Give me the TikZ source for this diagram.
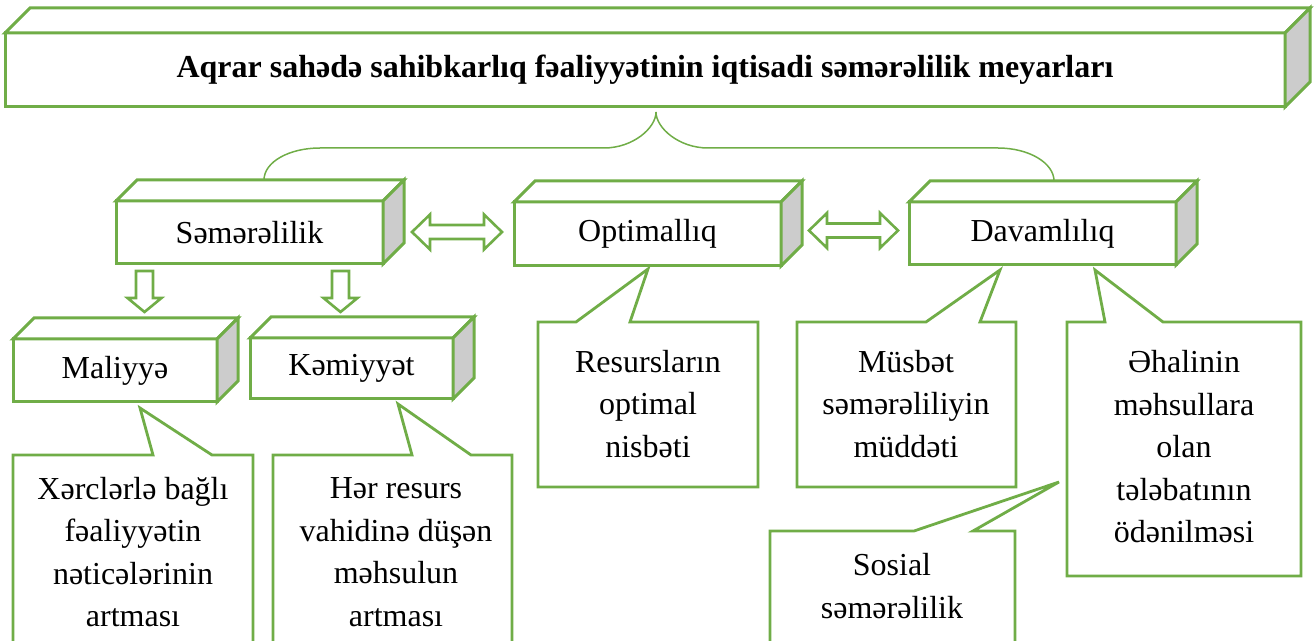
\documentclass[tikz,border=0pt]{standalone}
\usepackage{fontspec}
\setmainfont{Liberation Serif}
\usetikzlibrary{calc}
\definecolor{grn}{RGB}{112,173,71}
\definecolor{sidegray}{RGB}{204,204,204}

\begin{document}
\begin{tikzpicture}[x=0.5pt,y=-0.5pt,
        cubefront/.style={draw=grn, line width=1.5pt, fill=white, inner sep=0pt, outer sep=0pt, font=\fontsize{16}{21.25}\selectfont},
        cubeface/.style={draw=grn, line width=1.5pt, line join=miter},
        bubble/.style={draw=grn, line width=1.4pt, fill=white, line join=miter},
        bubbletext/.style={align=center, inner sep=0pt, font=\fontsize{16}{21.25}\selectfont},
        blockarrow/.style={draw=grn, line width=1.3pt, fill=white, line join=miter},
        brace/.style={draw=grn, line width=0.75pt}]
        \useasboundingbox (0,0) rectangle (1314,641);
        \node[cubefront, minimum width=640pt, minimum height=37pt, font=\bfseries\fontsize{16}{21.25}\selectfont] (title) at (645,70) {Aqrar sahədə sahibkarlıq fəaliyyətinin iqtisadi səmərəlilik meyarları};
        \draw[cubeface, fill=white] (title.north west) -- ++(25,-25) -- ($(title.north east)+(25,-25)$) -- (title.north east) -- cycle;
        \draw[cubeface, fill=sidegray] (title.north east) -- ++(25,-25) -- ($(title.south east)+(25,-25)$) -- (title.south east) -- cycle;
        \foreach \nm/\cx/\cy/\bw/\bh/\bd/\txt in {sem/249.5/232.5/267/63/21/Səmərəlilik, opt/647.5/234/267/64/21/Optimallıq, dav/1042.5/233.5/267/63/21/Davamlılıq, mal/115/370.5/204/63/21/Maliyyə, kem/351.5/368.5/203/61/21/Kəmiyyət} {
          \node[cubefront, minimum width=\bw*0.5pt, minimum height=\bh*0.5pt] (\nm) at (\cx,\cy) {\txt};
          \draw[cubeface, fill=white] (\nm.north west) -- ++(\bd,-\bd) -- ($(\nm.north east)+(\bd,-\bd)$) -- (\nm.north east) -- cycle;
          \draw[cubeface, fill=sidegray] (\nm.north east) -- ++(\bd,-\bd) -- ($(\nm.south east)+(\bd,-\bd)$) -- (\nm.south east) -- cycle;
        }
        \coordinate (bracetip) at (656,112);
        \coordinate (braceleft) at (264,180);
        \coordinate (braceright) at (1054,181);
        \draw[brace] (braceleft) .. controls (264,162) and (289,148) .. (320,148) -- (604,148)
          .. controls (633,148) and (656,128) .. (bracetip)
          .. controls (656,128) and (679,148) .. (708,148) -- (998,148)
          .. controls (1029,148) and (1054,163) .. (braceright);
        \foreach \ax/\ay/\al in {457/232/90, 853.5/230.5/89} {
          \draw[blockarrow] (\ax-\al/2,\ay) -- ++(18,-17.5) -- ++(0,10.5) -- (\ax+\al/2-18,\ay-7) -- ++(0,-10.5) -- (\ax+\al/2,\ay)
            -- ++(-18,17.5) -- ++(0,-10.5) -- (\ax-\al/2+18,\ay+7) -- ++(0,10.5) -- cycle;
        }
        \foreach \ax in {144.5, 340.5} {
          \draw[blockarrow] (\ax-8.5,271) -- (\ax+8.5,271) -- (\ax+8.5,298) -- (\ax+17,298) -- (\ax,312) -- (\ax-17,298) -- (\ax-8.5,298) -- cycle;
        }
        \foreach \xa/\ya/\xb/\yb/\px/\py/\ua/\ub in {13/455/253/660/140/408/153/212, 273/455/512/660/398/404/412/471, 538/322/758/487/648/269/576/630, 797/322/1016/487/1000/270/926/980, 770/531/1015/660/1059/482/914/973, 1067/322/1301/576/1095/270/1105/1163} {
          \draw[bubble] (\xa,\ya) -- (\ua,\ya) -- (\px,\py) -- (\ub,\ya) -- (\xb,\ya) -- (\xb,\yb) -- (\xa,\yb) -- cycle;
        }
        \node[bubbletext] (xerc) at (133,552) {Xərclərlə bağlı\\fəaliyyətin\\nəticələrinin\\artması};
        \node[bubbletext] (vahid) at (396,552) {Hər resurs\\vahidinə düşən\\məhsulun\\artması};
        \node[bubbletext] (nisbet) at (648,404) {Resursların\\optimal\\nisbəti};
        \node[bubbletext] (muddet) at (906,404) {Müsbət\\səmərəliliyin\\müddəti};
        \node[bubbletext] (sosial) at (892,586) {Sosial\\səmərəlilik};
        \node[bubbletext] (telebat) at (1184,447) {Əhalinin\\məhsullara\\olan\\tələbatının\\ödənilməsi};
      \end{tikzpicture}
\end{document}
